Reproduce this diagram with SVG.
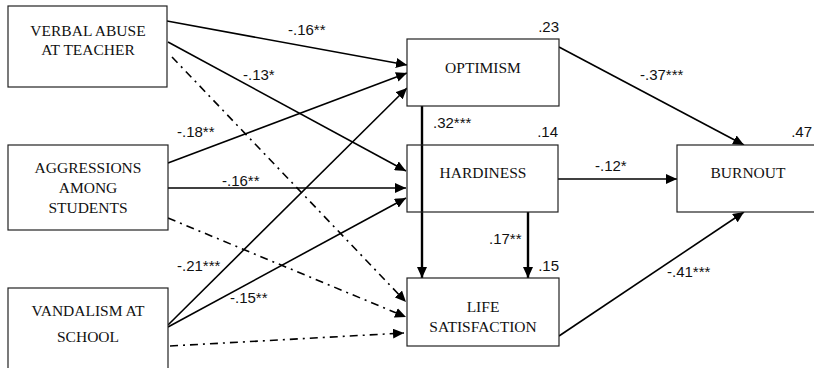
<svg xmlns="http://www.w3.org/2000/svg" width="814" height="368" viewBox="0 0 814 368">
<style>
.box{fill:#fff;stroke:#222;stroke-width:1.2}
.nt{font-family:"Liberation Serif","Times New Roman",serif;font-size:15.5px;fill:#111;text-anchor:middle}
.lb{font-family:"Liberation Sans",Arial,sans-serif;font-size:15px;fill:#111}
.r2{font-family:"Liberation Sans",Arial,sans-serif;font-size:15px;fill:#111;text-anchor:end}
.e{stroke:#000;stroke-width:1.6;fill:none;marker-end:url(#ah)}
.dd{stroke:#000;stroke-width:1.6;fill:none;stroke-dasharray:8 5 2 5;marker-end:url(#ah)}
.v{stroke:#000;stroke-width:2.4;fill:none;marker-end:url(#ah)}
</style>
<defs>
<marker id="ah" markerUnits="userSpaceOnUse" markerWidth="12" markerHeight="10" refX="11" refY="5" orient="auto">
<path d="M0,0 L11,5 L0,10 Z" fill="#000"/>
</marker>
</defs>
<rect width="814" height="368" fill="#fff"/>
<g id="connectors">
<line class="e" x1="167" y1="21" x2="407" y2="65"/>
<line class="e" x1="168" y1="42" x2="406" y2="171"/>
<line class="dd" x1="172" y1="57" x2="406" y2="302"/>
<line class="e" x1="168" y1="163" x2="407" y2="73"/>
<line class="e" x1="168" y1="188" x2="406" y2="188"/>
<line class="dd" x1="168" y1="218" x2="406" y2="317"/>
<line class="e" x1="168" y1="325" x2="407" y2="88"/>
<line class="e" x1="168" y1="327" x2="406" y2="198"/>
<line class="dd" x1="170" y1="346" x2="404" y2="333"/>
<line class="e" x1="559" y1="47" x2="744" y2="145"/>
<line class="e" x1="558" y1="179" x2="677" y2="179"/>
<line class="e" x1="559" y1="336" x2="744" y2="212"/>
<line class="v" x1="422" y1="106" x2="422" y2="278"/>
<line class="v" x1="528" y1="212" x2="528" y2="278"/>
</g>
<g id="verbal">
<rect class="box" x="8" y="6" width="159" height="81"/>
<text class="nt" x="88" y="36">VERBAL ABUSE</text>
<text class="nt" x="88" y="55">AT TEACHER</text>
</g>
<g id="aggressions">
<rect class="box" x="8" y="145" width="160" height="85"/>
<text class="nt" x="88" y="173">AGGRESSIONS</text>
<text class="nt" x="88" y="193">AMONG</text>
<text class="nt" x="88" y="213">STUDENTS</text>
</g>
<g id="vandalism">
<rect class="box" x="8" y="288" width="160" height="90"/>
<text class="nt" x="88" y="316">VANDALISM AT</text>
<text class="nt" x="88" y="342">SCHOOL</text>
</g>
<g id="optimism">
<rect class="box" x="407" y="39" width="152" height="67"/>
<text class="nt" x="483" y="73">OPTIMISM</text>
<text class="r2" x="559" y="32">.23</text>
</g>
<g id="hardiness">
<rect class="box" x="407" y="145" width="151" height="67" fill-opacity="0"/>
<text class="nt" x="483" y="178">HARDINESS</text>
<text class="r2" x="558" y="137">.14</text>
</g>
<g id="life">
<rect class="box" x="407" y="278" width="152" height="68"/>
<text class="nt" x="483" y="312">LIFE</text>
<text class="nt" x="483" y="332">SATISFACTION</text>
<text class="r2" x="559" y="271">.15</text>
</g>
<g id="burnout">
<rect class="box" x="677" y="145" width="145" height="67"/>
<text class="nt" x="748" y="178">BURNOUT</text>
<text class="r2" x="812" y="137">.47</text>
</g>
<g id="edge-labels">
<text class="lb" x="288" y="35">-.16**</text>
<text class="lb" x="243" y="80">-.13*</text>
<text class="lb" x="177" y="137">-.18**</text>
<text class="lb" x="222" y="186">-.16**</text>
<text class="lb" x="177" y="271">-.21***</text>
<text class="lb" x="230" y="303">-.15**</text>
<text class="lb" x="433" y="128">.32***</text>
<text class="lb" x="640" y="80">-.37***</text>
<text class="lb" x="595" y="171">-.12*</text>
<text class="lb" x="489" y="244">.17**</text>
<text class="lb" x="667" y="277">-.41***</text>
</g>
</svg>
